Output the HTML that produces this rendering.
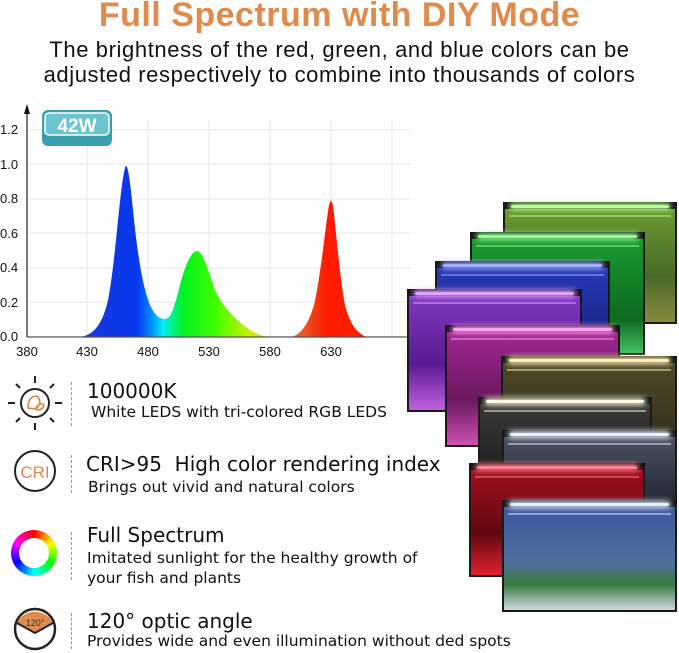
<!DOCTYPE html>
<html><head><meta charset="utf-8"><style>
body{margin:0;width:679px;height:653px;background:#fff;position:relative;overflow:hidden;font-family:"Liberation Sans",sans-serif;color:#111}
.a{position:absolute;white-space:nowrap}
.t{position:absolute;box-sizing:border-box;border:2px solid #1a1a1a;border-top:7px solid #111;}
.t:before{content:"";position:absolute;left:6px;right:6px;top:-4px;height:3px;border-radius:2px;background:var(--l);box-shadow:0 0 6px 2px var(--l)}
.t:after{content:"";position:absolute;left:4px;right:4px;top:6px;height:2px;background:var(--l);opacity:.5}
.h{font-size:20px;font-family:"DejaVu Sans",sans-serif}
.s{font-size:15.5px;font-family:"DejaVu Sans",sans-serif}
.sep{position:absolute;left:71px;width:0;border-left:1px dashed #999}
</style></head><body>
<div class="a" style="left:0;width:679px;text-align:center;top:-4px;font-size:34px;font-weight:bold;color:#e08a4c;letter-spacing:0.5px">Full Spectrum with DIY Mode</div>
<div class="a" style="left:0;width:679px;text-align:center;top:37px;font-size:22px;line-height:25px;letter-spacing:0.6px;color:#111">The brightness of the red, green, and blue colors can be<br>adjusted respectively to combine into thousands of colors</div>

<svg class="a" style="left:0;top:95px" width="420" height="265" viewBox="0 95 420 265">
<defs><linearGradient id="g" gradientUnits="userSpaceOnUse" x1="80" y1="0" x2="367" y2="0">
<stop offset="0" stop-color="#1838d8"/><stop offset="0.2" stop-color="#0838f0"/><stop offset="0.25" stop-color="#0090ff"/><stop offset="0.29" stop-color="#00f0f0"/><stop offset="0.36" stop-color="#00f020"/><stop offset="0.47" stop-color="#40ff00"/><stop offset="0.6" stop-color="#d0f000"/><stop offset="0.66" stop-color="#f0c020"/><stop offset="0.75" stop-color="#e07030"/><stop offset="0.86" stop-color="#ff1a00"/><stop offset="1" stop-color="#ff2000"/></linearGradient></defs>
<g stroke="#e6e6e6" stroke-width="1">
<line x1="27" y1="130" x2="410" y2="130"/><line x1="27" y1="164" x2="410" y2="164"/><line x1="27" y1="199" x2="410" y2="199"/><line x1="27" y1="233" x2="410" y2="233"/><line x1="27" y1="268" x2="410" y2="268"/><line x1="27" y1="302" x2="410" y2="302"/>
<line x1="87" y1="120" x2="87" y2="337"/><line x1="148" y1="120" x2="148" y2="337"/><line x1="209" y1="120" x2="209" y2="337"/><line x1="270" y1="120" x2="270" y2="337"/><line x1="331" y1="120" x2="331" y2="337"/><line x1="392" y1="120" x2="392" y2="337"/></g>
<path fill="url(#g)" d="M80,337 C95,335 103,322 108,300 C114,270 118,215 122,185 C124,172 125,166 126,166 C128,166 130,180 133,210 C137,250 142,285 150,305 C155,316 160,319 165,319 C171,319 174,308 180,285 C186,262 192,251 197,251 C203,251 208,270 215,290 C223,307 235,320 250,330 C258,335 265,337 275,337 L290,337 C300,336 308,325 314,305 C320,280 325,230 329,205 L331,200 L333,205 C336,230 340,280 345,305 C350,325 358,334 367,337 Z"/>
<line x1="27" y1="337" x2="410" y2="337" stroke="#555" stroke-width="1.2"/>
<line x1="27" y1="337" x2="27" y2="112" stroke="#222" stroke-width="1.2"/>
<path d="M24,114 L27,104 L30,114 Z" fill="#111"/>
<g font-size="13" fill="#111"><text x="0" y="134">1.2</text><text x="0" y="169">1.0</text><text x="0" y="203">0.8</text><text x="0" y="238">0.6</text><text x="0" y="272">0.4</text><text x="0" y="307">0.2</text><text x="0" y="341">0.0</text>
<g text-anchor="middle"><text x="27" y="356">380</text><text x="87" y="356">430</text><text x="148" y="356">480</text><text x="209" y="356">530</text><text x="270" y="356">580</text><text x="331" y="356">630</text></g></g>
<rect x="42" y="110" width="70" height="36" rx="6" fill="#3a9db0"/><rect x="45" y="113" width="64" height="22" rx="4" fill="#6cc4d0" stroke="#fff" stroke-width="1.5"/>
<text x="77" y="132" text-anchor="middle" font-size="19" font-weight="bold" fill="#fff">42W</text>
</svg>

<div class="t" style="left:503px;top:202px;width:174px;height:122px;background:linear-gradient(#6a9a30,#4a6a28 60%,#8a8a40);--l:#b8ff90"></div>
<div class="t" style="left:470px;top:232px;width:175px;height:123px;background:linear-gradient(#1a9a30,#0e6a20 70%,#40c060);--l:#90ff90"></div>
<div class="t" style="left:435px;top:261px;width:175px;height:90px;background:linear-gradient(#2838b8,#1a2080);--l:#a0b0ff"></div>
<div class="t" style="left:407px;top:289px;width:175px;height:123px;background:linear-gradient(#8038c0,#5a1a90 60%,#c060e0);--l:#e0a0ff"></div>
<div class="t" style="left:445px;top:325px;width:175px;height:122px;background:linear-gradient(#a02890,#6a1860 60%,#d050b0);--l:#ffa0f0"></div>
<div class="t" style="left:501px;top:356px;width:176px;height:100px;background:linear-gradient(#50482a,#302c18);--l:#fff0b0"></div>
<div class="t" style="left:478px;top:397px;width:174px;height:80px;background:linear-gradient(#3a3838,#1e1e1e);--l:#fffbe0"></div>
<div class="t" style="left:502px;top:430px;width:175px;height:80px;background:linear-gradient(#4a5060,#202430);--l:#e8f0ff"></div>
<div class="t" style="left:469px;top:463px;width:176px;height:114px;background:linear-gradient(#a01020,#600810 60%,#e02030);--l:#ff8090"></div>
<div class="t" style="left:502px;top:500px;width:175px;height:112px;background:linear-gradient(#3a58a0,#50709a 55%,#3a7a40 75%,#d0d8e0);--l:#e0f0ff"></div>

<svg class="a" style="left:6px;top:374px" width="58" height="58" viewBox="0 0 58 58"><g stroke="#222" stroke-width="2"><circle cx="29" cy="29" r="14" fill="none"/><line x1="29" y1="2" x2="29" y2="9"/><line x1="29" y1="49" x2="29" y2="56"/><line x1="2" y1="29" x2="9" y2="29"/><line x1="49" y1="29" x2="56" y2="29"/><line x1="10" y1="10" x2="14" y2="14"/><line x1="48" y1="10" x2="44" y2="14"/><line x1="10" y1="48" x2="14" y2="44"/><line x1="48" y1="48" x2="44" y2="44"/></g><path d="M22,34 Q22,22 31,22 Q37,28 30,35 Z M29,35 Q36,26 38,32 Q34,38 29,35" fill="none" stroke="#d8894a" stroke-width="1.6"/></svg>
<svg class="a" style="left:12px;top:448px" width="46" height="46"><circle cx="23" cy="23" r="20" fill="none" stroke="#222" stroke-width="2"/><text x="23" y="30" text-anchor="middle" font-size="17" fill="#e08a4c">CRI</text></svg>
<div class="a" style="left:11px;top:530px;width:46px;height:46px;border-radius:50%;background:conic-gradient(red,#ff0,lime,cyan,blue,#f0f,red)"><div style="position:absolute;left:8px;top:8px;width:30px;height:30px;border-radius:50%;background:#fff"></div></div>
<svg class="a" style="left:12px;top:606px" width="46" height="46"><path d="M5,17 A20,20 0 0,1 41,17 L23,27 Z" fill="#e08a4c"/><circle cx="23" cy="23" r="20" fill="none" stroke="#222" stroke-width="2.5"/><path d="M5,17 L23,27 L41,17" fill="none" stroke="#222" stroke-width="2"/><text x="23" y="20" text-anchor="middle" font-size="9" fill="#333">120°</text></svg>

<div class="sep" style="top:382px;height:44px"></div>
<div class="sep" style="top:455px;height:38px"></div>
<div class="sep" style="top:532px;height:48px"></div>
<div class="sep" style="top:613px;height:36px"></div>

<div class="a h" style="left:87px;top:379px">100000K</div>
<div class="a s" style="left:91px;top:403px">White LEDS with tri-colored RGB LEDS</div>
<div class="a h" style="left:86px;top:452px">CRI&gt;95&nbsp; High color rendering index</div>
<div class="a s" style="left:88px;top:478px">Brings out vivid and natural colors</div>
<div class="a h" style="left:87px;top:523px">Full Spectrum</div>
<div class="a s" style="left:87px;top:548px;line-height:20px">Imitated sunlight for the healthy growth of<br>your fish and plants</div>
<div class="a h" style="left:87px;top:609px">120° optic angle</div>
<div class="a s" style="left:87px;top:632px">Provides wide and even illumination without ded spots</div>
</body></html>
